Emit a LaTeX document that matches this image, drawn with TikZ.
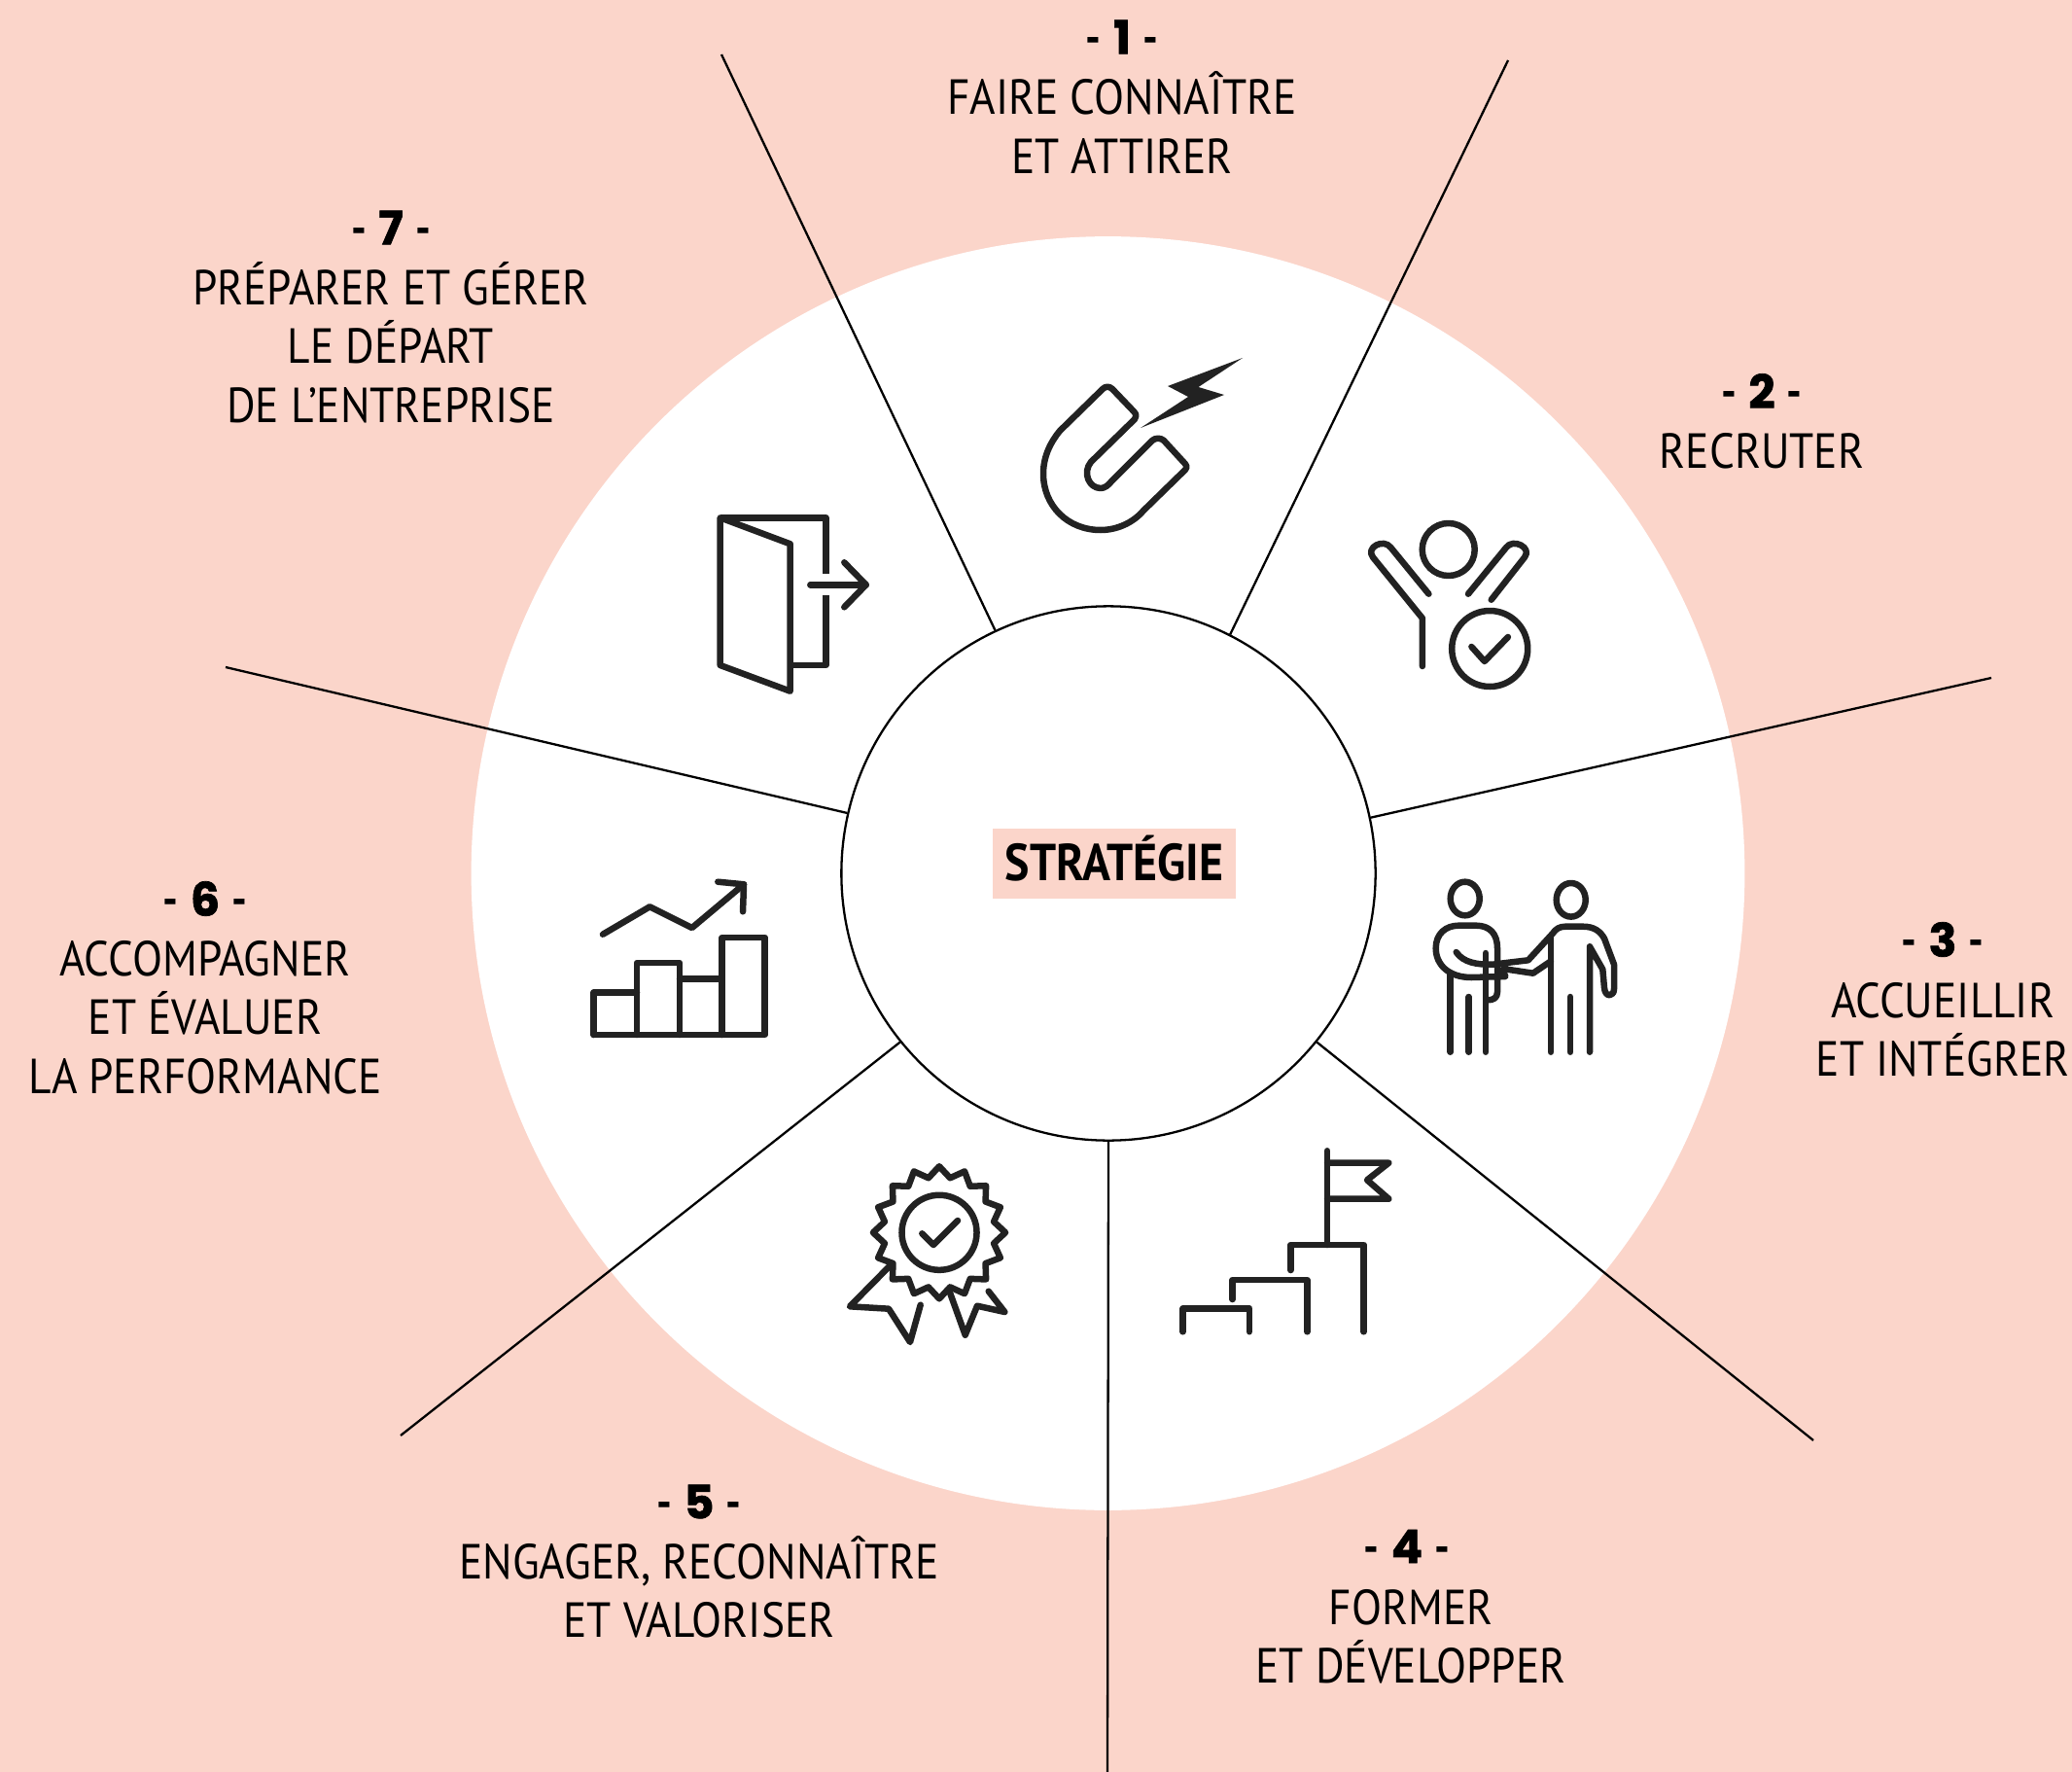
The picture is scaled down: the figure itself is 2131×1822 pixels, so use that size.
\documentclass[tikz,border=0pt]{standalone}
\usepackage{fontspec}
\usetikzlibrary{shapes.geometric}
\setmainfont{PT Sans}[FakeStretch=0.895]
\newfontfamily\numfont{Poppins}[FakeBold=1.5]
\definecolor{bgpink}{HTML}{FBD5CA}
\definecolor{icongray}{HTML}{222222}
\newcommand{\steptag}[1]{{\normalfont\bfseries\fontsize{14}{15}\selectfont -}\hspace{3.5pt}#1\hspace{3.5pt}{\normalfont\bfseries\fontsize{14}{15}\selectfont -}}

\begin{document}
\begin{tikzpicture}[x=0.01cm,y=-0.01cm,
    numlabel/.style={inner sep=0,font=\numfont\bfseries\fontsize{13.5}{15}\selectfont},
    steplabel/.style={inner sep=0,align=center,font=\fontsize{14.4}{17.2}\selectfont},
    spoke/.style={line width=0.65pt},
    icon/.style={line width=1.85pt,color=icongray,line join=round,line cap=round}]
    \fill[bgpink] (0,0) rectangle (2131,1822);
    \path[use as bounding box] (0,0) rectangle (2131,1822);

    \node (Disk) at (1139.5,898)[circle,fill=white,minimum size=13.09cm,inner sep=0]{};
    \node (Core) at (1140,898)[circle,draw,fill=white,line width=0.65pt,minimum size=5.49cm,inner sep=0]{};

    \coordinate (E1) at (742,56);
    \coordinate (E2) at (1551,62);
    \coordinate (E3) at (2048,697);
    \coordinate (E4) at (1865,1481);
    \coordinate (E5) at (1139,1822);
    \coordinate (E6) at (412,1476);
    \coordinate (E7) at (232,686);

    \draw [spoke] (Core.115.2) to (E1);
    \draw [spoke] (Core.63.7) to (E2);
    \draw [spoke] (Core.12.2) to (E3);
    \draw [spoke] (Core.-39.5) to (E4);
    \draw [spoke] (Core.270) to (E5);
    \draw [spoke] (Core.219.3) to (E6);
    \draw [spoke] (Core.167) to (E7);

    \node (Strat) at (1146,888)[fill=bgpink,minimum width=2.5cm,minimum height=0.72cm,inner sep=0,
        font=\bfseries\fontsize{15.2}{17}\selectfont]{\raisebox{-5.1pt}[0pt][0pt]{STRATÉGIE}};

    \node (N1) at (1154,38)[numlabel]{\steptag{1}};
    \node (L1) at (1154,126)[steplabel]{FAIRE CONNAÎTRE\\ET ATTIRER};
    \node (N2) at (1812,402)[numlabel]{\steptag{2}};
    \node (L2) at (1812,464)[steplabel]{RECRUTER};
    \node (N3) at (1998,966)[numlabel]{\steptag{3}};
    \node (L3) at (1998,1059)[steplabel]{ACCUEILLIR\\ET INTÉGRER};
    \node (N4) at (1447,1590)[numlabel]{\steptag{4}};
    \node (L4) at (1451,1683)[steplabel]{FORMER\\ET DÉVELOPPER};
    \node (N5) at (719,1544)[numlabel]{\steptag{5}};
    \node (L5) at (719,1632)[steplabel]{ENGAGER, RECONNAÎTRE\\ET VALORISER};
    \node (N6) at (211,924)[numlabel]{\steptag{6}};
    \node (L6) at (211,1046)[steplabel]{ACCOMPAGNER\\ET ÉVALUER\\LA PERFORMANCE};
    \node (N7) at (402,234)[numlabel]{\steptag{7}};
    \node (L7) at (402,352)[steplabel]{PRÉPARER ET GÉRER\\LE DÉPART\\DE L’ENTREPRISE};

    % magnet
    \draw [icon] (1134,400) .. controls (1137,397) and (1141,397) .. (1144,400) -- (1166,423)
        .. controls (1169,426) and (1169,429) .. (1167,431) -- (1122,475)
        .. controls (1113,486) and (1120,502) .. (1132,502) .. controls (1136,502) and (1140,499) .. (1143,495)
        -- (1185,453) .. controls (1188,450) and (1194,450) .. (1197,453) -- (1219,477)
        .. controls (1221,479) and (1221,481) .. (1219,483) -- (1176,525)
        .. controls (1165,538) and (1148,545) .. (1132,545) .. controls (1098,545) and (1073,520) .. (1073,487)
        .. controls (1073,470) and (1080,455) .. (1090,443) -- cycle;
    \fill [icongray] (1278,368) -- (1232.5,398) -- (1259,406) -- (1173,440) -- (1222,408) -- (1201,397) -- cycle;

    % person with check
    \draw [icon] (1489.7,565) circle [x radius=27,y radius=27];
    \draw [icon] (1469.4,610.7) -- (1430.4,563) .. controls (1423,553) and (1404,563) .. (1412,573)
        -- (1462.9,635.7) -- (1462.9,685);
    \draw [icon] (1510,610.7) -- (1549,563) .. controls (1556,553) and (1576,563) .. (1568,573) -- (1533.7,616.7);
    \draw [icon] (1532.2,667) circle [radius=39];
    \draw [icon] (1513.4,665) -- (1526.8,680) -- (1550.9,655);

    % handshake
    \draw [icon] (1506.7,924) circle [x radius=15,y radius=17.3];
    \draw [icon] (1615.7,925.3) circle [x radius=15,y radius=17.3];
    \draw [icon] (1491.7,1001.7) -- (1491.7,1081.7);
    \draw [icon] (1510.7,1025) -- (1510.7,1081.7);
    \draw [icon] (1528,980) -- (1528,1081.7);
    \draw [icon] (1595,963.3) -- (1595,1081.7);
    \draw [icon] (1615,1025) -- (1615,1081.7);
    \draw [icon] (1497.7,979) .. controls (1505,990) and (1520,992) .. (1535,991.7) -- (1571.7,987.3) -- (1596.7,960)
        .. controls (1600,955) and (1604,952.7) .. (1610,952.7) -- (1628,952.7) .. controls (1640,952.7) and (1646,958) .. (1650,965)
        -- (1660,991.7) -- (1660,1016.7) .. controls (1660,1025) and (1651,1026) .. (1650,1016)
        -- (1648.3,996.7) -- (1635,973.3) -- (1635,1081.7);
    \draw [icon] (1548.3,991.7) .. controls (1546,996) and (1546,1000) .. (1548.3,1004) -- (1513.3,1005)
        .. controls (1490,1005) and (1476.7,992) .. (1476.7,975) .. controls (1476.7,960) and (1487,951.7) .. (1500,951.7)
        -- (1518.3,951.7) .. controls (1532,951.7) and (1540,960) .. (1540,975) -- (1540,1020)
        .. controls (1540,1026) and (1536,1028.3) .. (1530,1028.3);
    \draw [icon] (1550,996.7) -- (1576.7,1000.7) -- (1595,988.3);

    % steps and flag
    \draw [icon] (1365,1183.3) -- (1365,1280);
    \draw [icon] (1365,1195.7) -- (1428.3,1195.7) -- (1406,1213.3) -- (1428.3,1232.7) -- (1365,1232.7);
    \draw [icon] (1327.3,1306) -- (1327.3,1280) -- (1402.7,1280) -- (1402.7,1369.3);
    \draw [icon] (1267.7,1336) -- (1267.7,1316) -- (1344.3,1316) -- (1344.3,1369.3);
    \draw [icon] (1216.7,1369.3) -- (1216.7,1345.3) -- (1285,1345.3) -- (1285,1369.3);

    % rosette
    \node (Rosette) at (966,1267.3)[star,star points=16,star point ratio=1.19,minimum size=1.36cm,inner sep=0,icon,draw]{};
    \node (Seal) at (966,1267.3)[circle,minimum size=0.77cm,inner sep=0,icon,draw]{};
    \draw [icon] (948.3,1268.3) -- (960,1280) -- (985,1255);
    \draw [icon] (915,1301.7) -- (874,1343.3) -- (914,1345.7) -- (936,1380) -- (946.7,1341.7);
    \draw [icon] (977.3,1330) -- (992.7,1372.7) -- (1005,1342.7) -- (1033.3,1349) -- (1016.7,1327.7);

    % chart
    \draw [icon] (610.7,1064) -- (786.7,1064) -- (786.7,964) -- (742.7,964) -- (742.7,1064);
    \draw [icon] (610.7,1064) -- (610.7,1020.7) -- (655,1020.7);
    \draw [icon] (655,1064) -- (655,990) -- (699,990) -- (699,1064);
    \draw [icon] (699,1006.7) -- (742.7,1006.7);
    \draw [icon] (620,960.7) -- (668.3,932.3) -- (711.7,954) -- (765,909.3);
    \draw [icon] (738.3,906.7) -- (765,909.3) -- (764,937.3);

    % door
    \draw [icon] (740.7,532.3) -- (740.7,684) -- (812.7,710.7) -- (812.7,559.3) -- cycle;
    \draw [icon,line cap=butt] (740.7,532.3) -- (849.3,532.3) -- (849.3,590);
    \draw [icon,line cap=butt] (849.3,612) -- (849.3,684) -- (812.7,684);
    \draw [icon] (833.3,601.3) -- (890.7,601.3);
    \draw [icon] (868.3,578.3) -- (890.7,601.3) -- (868.3,624.3);
\end{tikzpicture}
\end{document}
